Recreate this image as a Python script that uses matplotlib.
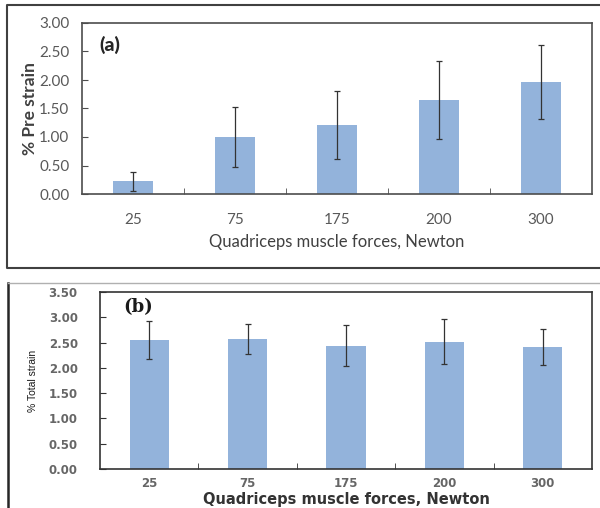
import matplotlib
matplotlib.use("Agg")
import matplotlib.pyplot as plt
from matplotlib.lines import Line2D
import numpy as np

# Forze applicate al quadricipite (N)
forces = ["25", "75", "175", "200", "300"]

# (a) pre strain medio e deviazione standard
pre_strain = [0.22, 1.00, 1.21, 1.65, 1.96]
pre_strain_sd = [0.17, 0.52, 0.59, 0.68, 0.65]

# (b) total strain medio e deviazione standard
total_strain = [2.55, 2.57, 2.44, 2.52, 2.41]
total_strain_sd = [0.37, 0.30, 0.40, 0.44, 0.36]

W, H = 600, 508
bar_color = "#93B3DB"
tick_gray = "#595959"


def px_axes(fig, left, top, right, bottom):
    # coordinate in pixel -> frazioni della figura
    return fig.add_axes([left / W, (H - bottom) / H, (right - left) / W, (bottom - top) / H])


def bar_panel(ax, values, errors, ymax, spine_color):
    x = np.arange(len(values))
    ax.bar(x, values, width=0.4, color=bar_color, zorder=2)
    ax.errorbar(x, values, yerr=errors, fmt="none", ecolor="#333333",
                elinewidth=0.9, capsize=2, capthick=0.9, zorder=3)
    ax.set_xlim(-0.5, len(values) - 0.5)
    ax.set_ylim(0, ymax)
    ax.set_yticks(np.arange(0, ymax + 0.01, 0.5))
    ax.set_yticklabels([f"{v:.2f}" for v in np.arange(0, ymax + 0.01, 0.5)])
    ax.set_xticks(x)
    ax.set_xticklabels(forces)
    ax.set_xticks(np.arange(0.5, len(values) - 0.5), minor=True)
    ax.tick_params(axis="x", which="major", length=0)
    ax.tick_params(axis="x", which="minor", direction="in", length=4, color=spine_color)
    ax.tick_params(axis="y", direction="in", length=4, color=spine_color)
    for s in ax.spines.values():
        s.set_color(spine_color)
        s.set_linewidth(1.2)
    ax.grid(False)


fig = plt.figure(figsize=(W / 100, H / 100), dpi=100)
fig.patch.set_facecolor("white")

# --- pannello (a) ---
ax_a = px_axes(fig, 82, 23, 592, 194)
bar_panel(ax_a, pre_strain, pre_strain_sd, 3.0, "#4d4d4d")
ax_a.tick_params(axis="y", labelsize=11, labelcolor=tick_gray, pad=9)
ax_a.tick_params(axis="x", labelsize=11, labelcolor=tick_gray, pad=14)
for lab in ax_a.get_xticklabels() + ax_a.get_yticklabels():
    lab.set_family("Lato")
ax_a.set_ylabel("% Pre strain", fontsize=12.5, fontweight="bold", color="#404040",
                family="Lato", labelpad=1)
ax_a.set_xlabel("Quadriceps muscle forces, Newton", fontsize=12, color="#404040",
                family="Lato", labelpad=5)
ax_a.text(0.035, 0.87, "(a)", transform=ax_a.transAxes, fontsize=14,
          fontweight="black", family="Lato", color="#262626", va="center")

# --- pannello (b) ---
ax_b = px_axes(fig, 100, 292, 592, 469)
bar_panel(ax_b, total_strain, total_strain_sd, 3.5, "#333333")
ax_b.tick_params(axis="y", labelsize=8.5, labelcolor="#666666", pad=16)
ax_b.tick_params(axis="x", labelsize=8.5, labelcolor="#666666", pad=6)
for lab in ax_b.get_xticklabels() + ax_b.get_yticklabels():
    lab.set_fontweight("bold")
ax_b.set_ylabel("% Total strain", fontsize=7.5, color="#1a1a1a",
                family="Liberation Sans", labelpad=8)
ax_b.set_xlabel("Quadriceps muscle forces, Newton", fontsize=10.5, fontweight="bold",
                color="#333333", labelpad=1)
ax_b.text(0.047, 0.915, "(b)", transform=ax_b.transAxes, fontsize=13,
          fontweight="bold", family="DejaVu Serif", color="#1a1a1a", va="center")

# cornici dei due riquadri
def fig_line(xs, ys, color, lw):
    fig.add_artist(Line2D([x / W for x in xs], [(H - y) / H for y in ys],
                          transform=fig.transFigure, color=color, linewidth=lw))

fig_line([620, 7, 7, 620], [5, 5, 268, 268], "#404040", 1.5)
fig_line([8, 8], [520, 283], "#262626", 1.8)
fig_line([8, 620], [283, 283], "#b0b0b0", 1.0)

plt.savefig("out.png", dpi=100, facecolor="white")
plt.close()
